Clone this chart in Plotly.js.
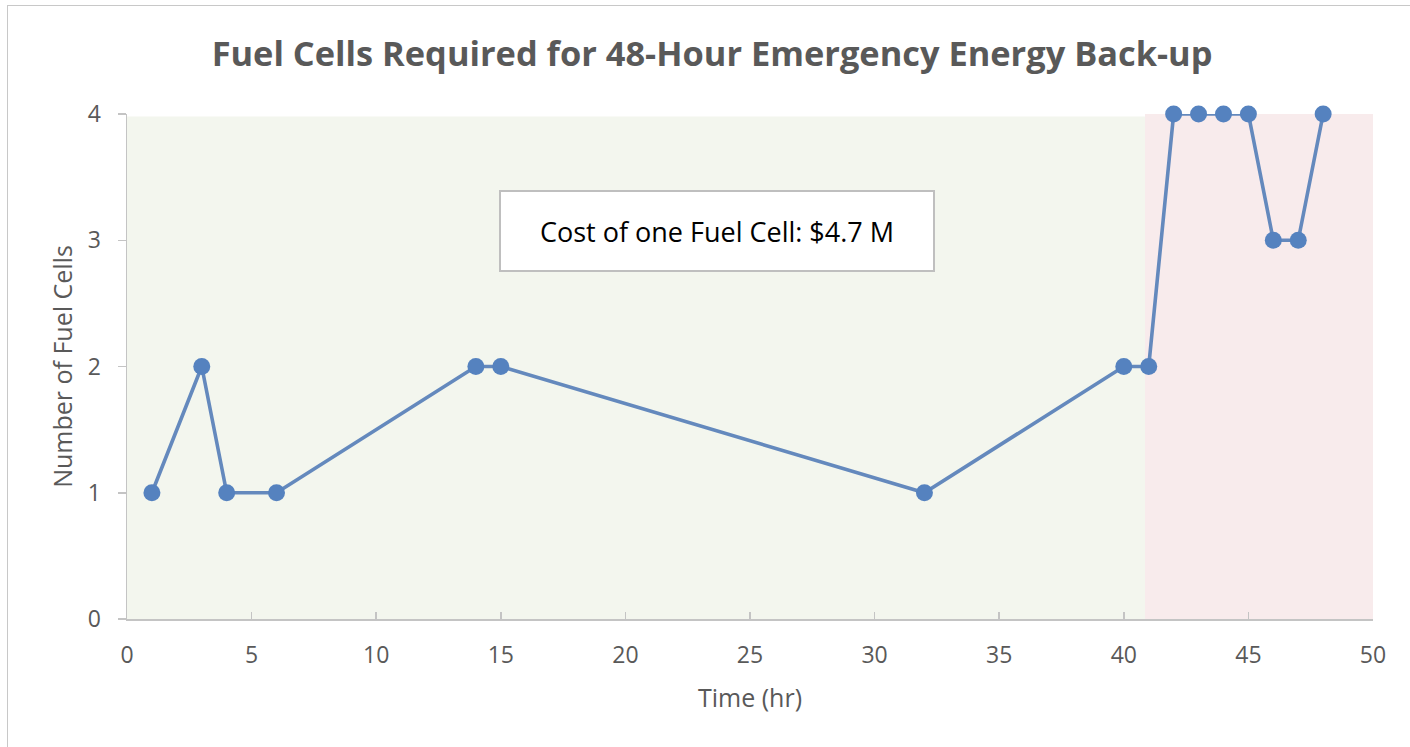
<!DOCTYPE html>
<html><head><meta charset="utf-8">
<script src="https://cdn.plot.ly/plotly-3.0.1.min.js"></script>
<style>
html,body{margin:0;padding:0;background:#fff;overflow:hidden}
#frame{position:absolute;left:7px;top:5px;width:1420px;height:760px;border:1px solid #c8c8c8;box-sizing:border-box}
#chart{position:absolute;left:0;top:0;width:1410px;height:747px}
</style></head>
<body>
<div id="frame"></div>
<div id="chart"></div>
<script>
const hours = [1, 3, 4, 6, 14, 15, 32, 40, 41, 42, 43, 44, 45, 46, 47, 48];
const fuelCells = [1, 2, 1, 1, 2, 2, 1, 2, 2, 4, 4, 4, 4, 3, 3, 4];
const xTicks = [0, 5, 10, 15, 20, 25, 30, 35, 40, 45, 50];
const yTicks = [0, 1, 2, 3, 4];
const normalZone = [0, 40.85];
const criticalZone = [40.85, 50];
const costLabel = 'Cost of one Fuel Cell: $4.7 M';

const font = '"Open Sans", "Liberation Sans", sans-serif';
const trace = {
  x: hours, y: fuelCells, type: 'scatter', mode: 'lines+markers',
  line: {color: '#6489bd', width: 3.6},
  marker: {color: '#5582bf', size: 17},
  cliponaxis: false,
  hoverinfo: 'x+y', showlegend: false
};
const layout = {
  width: 1410, height: 747,
  margin: {l: 127, r: 37, t: 114, b: 128},
  paper_bgcolor: 'rgba(0,0,0,0)', plot_bgcolor: 'rgba(0,0,0,0)',
  title: {text: '<b>Fuel Cells Required for 48-Hour Emergency Energy Back-up</b>',
    font: {family: font, size: 34.4, color: '#595959'},
    x: 0.505, xref: 'container', y: 0.928, yref: 'container', xanchor: 'center', yanchor: 'middle'},
  xaxis: {range: [0, 50], tickvals: xTicks, showgrid: false, zeroline: false,
    showline: true, linecolor: '#c4c4c4', linewidth: 1.5,
    ticks: 'inside', ticklen: 7, tickcolor: '#c4c4c4', tickwidth: 1.5,
    ticklabelstandoff: 15,
    tickfont: {family: font, size: 23, color: '#595959'},
    title: {text: 'Time (hr)', font: {family: font, size: 25, color: '#595959'}, standoff: 20}},
  yaxis: {range: [0, 4], tickvals: yTicks, showgrid: false, zeroline: false,
    showline: true, linecolor: '#c4c4c4', linewidth: 1.5,
    ticks: 'outside', ticklen: 8, tickcolor: '#c4c4c4', tickwidth: 1.5,
    ticklabelstandoff: 12,
    tickfont: {family: font, size: 23, color: '#595959'},
    title: {text: 'Number of Fuel Cells', font: {family: font, size: 25, color: '#595959'}, standoff: 8}},
  shapes: [
    {type: 'rect', xref: 'x', yref: 'y', x0: normalZone[0], x1: normalZone[1], y0: 0, y1: 3.98,
      fillcolor: '#f3f6ee', line: {width: 0}, layer: 'below'},
    {type: 'rect', xref: 'x', yref: 'y', x0: criticalZone[0], x1: criticalZone[1], y0: 0, y1: 4,
      fillcolor: '#f8ebec', line: {width: 0}, layer: 'below'}
  ],
  annotations: [
    {text: costLabel, x: 23.68, y: 3.07, xref: 'x', yref: 'y', showarrow: false,
      font: {family: font, size: 27, color: '#000'},
      bgcolor: '#ffffff', bordercolor: '#bfbfbf', borderwidth: 2, borderpad: 18,
      width: 396, height: 42}
  ]
};
Plotly.newPlot('chart', [trace], layout, {displayModeBar: false, staticPlot: true});
</script>
</body></html>
